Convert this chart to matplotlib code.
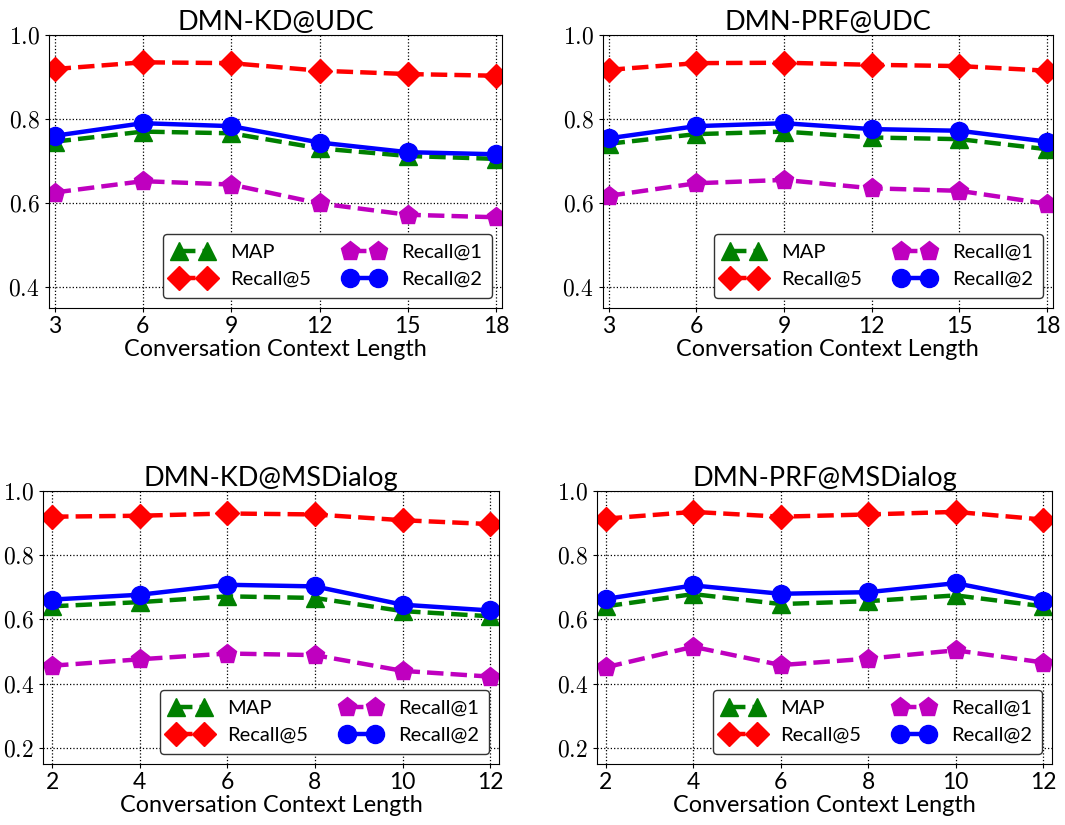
import matplotlib
matplotlib.use("Agg")
import matplotlib.pyplot as plt
from matplotlib.ticker import FuncFormatter

plt.rcParams["font.family"] = ["Lato", "DejaVu Sans"]
plt.rcParams["mathtext.fontset"] = "cm"

# context lengths
udc_x = [3, 6, 9, 12, 15, 18]
msd_x = [2, 4, 6, 8, 10, 12]

# DMN-KD@UDC
kd_udc_map = [0.746, 0.770, 0.766, 0.730, 0.712, 0.705]
kd_udc_r5 = [0.919, 0.935, 0.933, 0.915, 0.907, 0.903]
kd_udc_r1 = [0.625, 0.652, 0.644, 0.599, 0.572, 0.566]
kd_udc_r2 = [0.760, 0.790, 0.783, 0.744, 0.721, 0.716]

# DMN-PRF@UDC
prf_udc_map = [0.741, 0.764, 0.770, 0.756, 0.752, 0.728]
prf_udc_r5 = [0.917, 0.933, 0.934, 0.929, 0.926, 0.915]
prf_udc_r1 = [0.617, 0.647, 0.655, 0.635, 0.629, 0.598]
prf_udc_r2 = [0.754, 0.783, 0.790, 0.776, 0.772, 0.746]

# DMN-KD@MSDialog
kd_msd_map = [0.641, 0.654, 0.672, 0.667, 0.626, 0.610]
kd_msd_r5 = [0.920, 0.923, 0.930, 0.927, 0.909, 0.897]
kd_msd_r1 = [0.456, 0.476, 0.494, 0.489, 0.440, 0.422]
kd_msd_r2 = [0.662, 0.677, 0.708, 0.703, 0.646, 0.628]

# DMN-PRF@MSDialog
prf_msd_map = [0.641, 0.679, 0.648, 0.657, 0.675, 0.641]
prf_msd_r5 = [0.914, 0.935, 0.920, 0.927, 0.935, 0.911]
prf_msd_r1 = [0.451, 0.515, 0.458, 0.478, 0.504, 0.466]
prf_msd_r2 = [0.664, 0.706, 0.680, 0.685, 0.713, 0.659]

titles = ["DMN-KD@UDC", "DMN-PRF@UDC", "DMN-KD@MSDialog", "DMN-PRF@MSDialog"]

panels = [
    (udc_x, kd_udc_map, kd_udc_r5, kd_udc_r1, kd_udc_r2),
    (udc_x, prf_udc_map, prf_udc_r5, prf_udc_r1, prf_udc_r2),
    (msd_x, kd_msd_map, kd_msd_r5, kd_msd_r1, kd_msd_r2),
    (msd_x, prf_msd_map, prf_msd_r5, prf_msd_r1, prf_msd_r2),
]

W, H = 1065, 825
# axes boxes in pixels: left, top, right, bottom
boxes = [(48.7, 35, 502, 308), (602.7, 35, 1053, 308),
         (43.3, 491, 499, 764), (597, 491, 1052, 764)]

fig = plt.figure(figsize=(W / 100, H / 100), dpi=100)

for i, (x, mp, r5, r1, r2) in enumerate(panels):
    l, t, r, b = boxes[i]
    ax = fig.add_axes([l / W, 1 - b / H, (r - l) / W, (b - t) / H])
    lw = 3.2
    ax.plot(x, mp, "--", color="green", marker="^", ms=12.5, lw=lw, label="MAP")
    ax.plot(x, r5, "--", color="red", marker="D", ms=12, lw=lw, label="Recall@5")
    ax.plot(x, r1, "--", color="m", marker="p", ms=14, lw=lw, label="Recall@1")
    ax.plot(x, r2, "-", color="blue", marker="o", ms=13, lw=lw, label="Recall@2")

    ax.set_xticks(x)
    ax.tick_params(axis="x", labelsize=16.5, length=3, pad=3)
    ax.tick_params(axis="y", labelsize=17, length=3)
    if i < 2:
        ax.set_ylim(0.35, 1.0)
        ax.set_xlim(2.8, 18.2)
        ax.set_yticks([0.4, 0.6, 0.8, 1.0])
    else:
        ax.set_ylim(0.15, 1.0)
        ax.set_xlim(1.8, 12.2)
        ax.set_yticks([0.2, 0.4, 0.6, 0.8, 1.0])
    ax.yaxis.set_major_formatter(FuncFormatter(lambda v, p: r"$%.1f$" % v))
    ax.grid(True, linestyle=":", color="black", lw=0.9)
    ax.set_title(titles[i], fontsize=19.5, pad=3)
    ax.set_xlabel("Conversation Context Length", fontsize=16.8, labelpad=1)
    leg = ax.legend(loc="lower right", ncol=2, fontsize=14.5, numpoints=2,
                    framealpha=1, edgecolor="0.2", handlelength=2.0,
                    handletextpad=0.85, labelspacing=0.5, borderpad=0.5,
                    columnspacing=1.6, borderaxespad=0.5)
    leg.get_frame().set_linewidth(1.0)

fig.savefig("out.png", dpi=100)
